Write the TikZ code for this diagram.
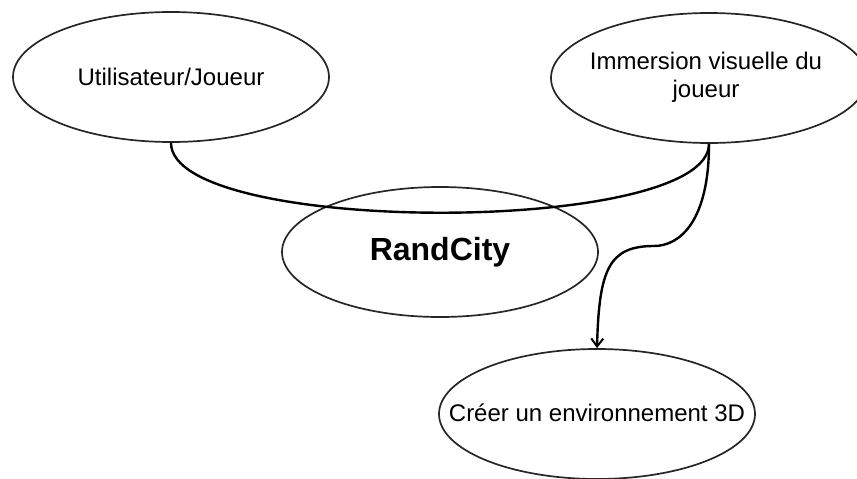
\documentclass[tikz,border=0pt]{standalone}
\usepackage{fontspec}
\setmainfont{Liberation Sans}
\usetikzlibrary{arrows.meta,shapes.geometric}
\begin{document}
\begin{tikzpicture}[x=1pt,y=-1pt,
  usecase/.style={draw=black!85,line width=1.7pt,ellipse,minimum width=316pt,minimum height=130pt,inner sep=0pt},
  txt/.style={font=\fontsize{24}{28}\selectfont,align=center,inner sep=0pt},
  link/.style={draw=black,line width=2.4pt}]
\clip (0,0) rectangle (857,479);
\useasboundingbox (0,0) rectangle (857,479);
\node[usecase] (user) at (171,77) {};
\node[txt] (usertxt) at (user.center) {Utilisateur/Joueur};
\node[usecase] (immersion) at (709,78) {};
\node[txt] (immersiontxt) at (706,77) {Immersion visuelle du\\joueur};
\node[usecase] (rand) at (440,252) {};
\node[txt,font=\fontsize{32}{36}\selectfont\bfseries] (randtxt) at (rand.center) {RandCity};
\node[usecase] (env) at (597,414) {};
\node[txt] (envtxt) at (597,413) {Créer un environnement 3D};
\coordinate (bend) at (654,246);
\draw[link] (user.south) .. controls +(0,93) and +(0,92) .. (immersion.south);
\draw[link,-{Straight Barb[length=8pt,width=12pt,line width=2pt]}] (immersion.south) .. controls +(0,77) and (680,246) .. (bend) .. controls (609,246) and (599,269) .. (env.north);
\end{tikzpicture}
\end{document}
